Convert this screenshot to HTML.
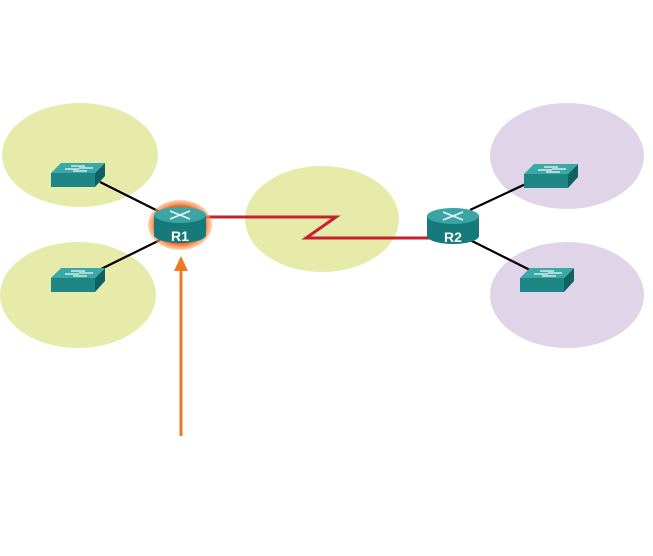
<!DOCTYPE html>
<html><head><style>html,body{margin:0;padding:0;background:#fff;}svg{display:block}</style></head>
<body>
<svg width="653" height="556" viewBox="0 0 653 556" xmlns="http://www.w3.org/2000/svg">
<defs>
<g id="sw">
<polygon points="0,10 44,10 44,24 0,24" fill="#1e8585"/>
<polygon points="44,10 54,0 54,13 44,24" fill="#0e6262"/>
<polygon points="10,0 54,0 44,10 0,10" fill="#3aa9a5"/>
<g stroke="#e8f4f4" stroke-width="1.3">
<line x1="20" y1="3" x2="34" y2="3"/><line x1="28" y1="5" x2="42" y2="5"/>
<line x1="14" y1="6" x2="28" y2="6"/><line x1="22" y1="8" x2="36" y2="8"/>
</g>
</g>
<g id="rt">
<rect x="0" y="8" width="52" height="20" fill="#16797a"/>
<ellipse cx="26" cy="28" rx="26" ry="8" fill="#16797a"/>
<ellipse cx="26" cy="8" rx="26" ry="8" fill="#3aa5a4"/>
<g stroke="#e8f4f4" stroke-width="1.6">
<line x1="16" y1="4" x2="36" y2="12"/><line x1="16" y1="12" x2="36" y2="4"/>
</g>
</g>
<radialGradient id="gl"><stop offset="0.75" stop-color="#f0641a"/><stop offset="1" stop-color="#f7a66e" stop-opacity="0.5"/></radialGradient>
</defs>
<ellipse cx="80" cy="155" rx="78" ry="52" fill="#e6ebaa"/>
<ellipse cx="78" cy="295" rx="78" ry="53" fill="#e6ebaa"/>
<ellipse cx="322" cy="219" rx="77" ry="53" fill="#e6ebaa"/>
<ellipse cx="567" cy="156" rx="77" ry="53" fill="#e0d5e8"/>
<ellipse cx="567" cy="295" rx="77" ry="53" fill="#e0d5e8"/>
<g stroke="#000" stroke-width="2.2">
<line x1="100" y1="182" x2="160" y2="212"/>
<line x1="95" y1="272" x2="160" y2="240"/>
<line x1="470" y1="210" x2="530" y2="182"/>
<line x1="470" y1="240" x2="530" y2="270"/>
</g>
<polyline points="205,217 336,217 306,238 432,238" fill="none" stroke="#c8202e" stroke-width="3"/>
<use href="#sw" x="51" y="163"/>
<use href="#sw" x="51" y="268"/>
<use href="#sw" x="524" y="164"/>
<use href="#sw" x="520" y="268"/>
<ellipse cx="180" cy="225" rx="32" ry="25" fill="url(#gl)"/>
<use href="#rt" x="154" y="207"/>
<text x="180" y="241" font-family="Liberation Sans, sans-serif" font-weight="bold" font-size="14" fill="#fff" text-anchor="middle">R1</text>
<use href="#rt" x="427" y="208"/>
<text x="453" y="242" font-family="Liberation Sans, sans-serif" font-weight="bold" font-size="14" fill="#fff" text-anchor="middle">R2</text>
<line x1="181" y1="436" x2="181" y2="268" stroke="#f07820" stroke-width="3"/>
<polygon points="181,256 174,271 188,271" fill="#f07820"/>
</svg>
</body></html>
